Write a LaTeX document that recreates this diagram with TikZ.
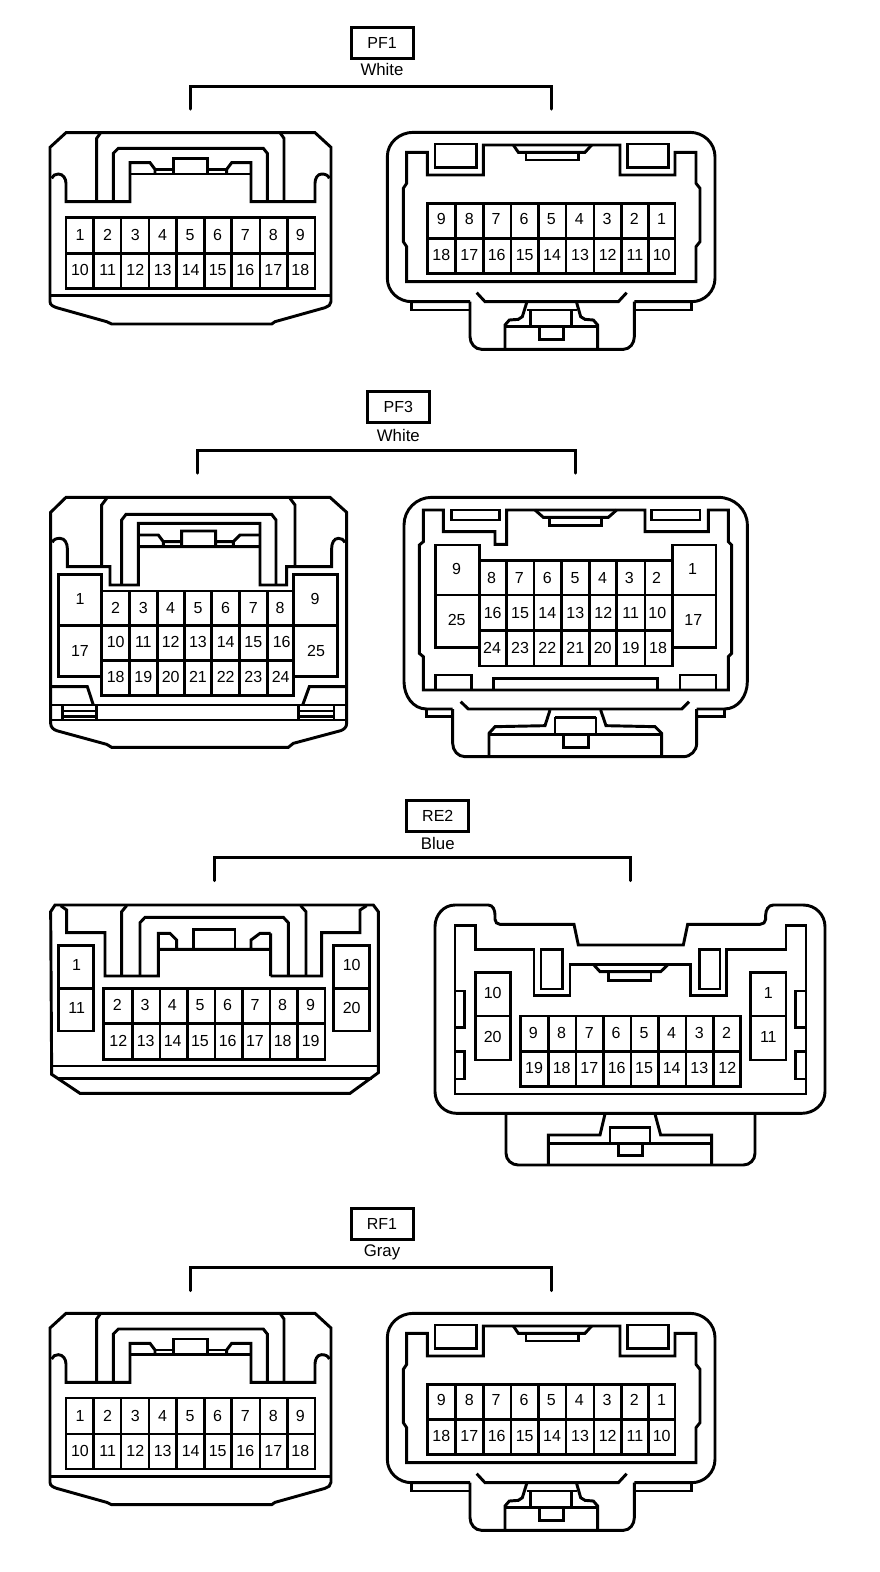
\documentclass[tikz,border=0pt]{standalone}
\usepackage{fontspec}
\setmainfont{Liberation Sans}
\tikzset{
  page/.style={x=0.75pt,y=-0.75pt},
  zm/.style={x=0.25pt,y=-0.25pt},
  ln/.style={line width=2.2pt,line join=miter,black},
  brk/.style={line width=2.25pt,black,line cap=round},
  pin/.style={font=\fontsize{12}{12}\selectfont,inner sep=0pt,text=black},
  tagbox/.style={draw=black,line width=2.25pt,minimum width=46.5pt,minimum height=23.25pt,inner sep=0pt,font=\fontsize{12}{12}\selectfont},
  tagsub/.style={inner sep=0pt,anchor=base,font=\fontsize{12.6}{12}\selectfont},
}
\newcommand{\pins}[3]{\foreach \pinx/\pint in {#3} {\node[pin] (#1-\pint) at (\pinx,#2) {\pint};}}
\newcommand{\header}[9]{% name,prefix,box x,box y,sub text,sub base y,br x1,br x2,br y
  \node[tagbox] (#2box) at (#3,#4) {#1};
  \node[tagsub] (#2sub) at (#3,#6) {#5};
  \coordinate (#2a) at (#7,#9);
  \coordinate (#2b) at (#8,#9);
  \draw[brk] (#2a) ++(0,23) -- (#2a) -- (#2b) -- ++(0,23);
}
\newcommand{\connA}[2]{%
\begin{scope}[shift={(30,#2)},zm]
\draw[ln] (108,368)--(855,368)--(903,412)--(903,875)to[out=-90,in=20](885,893)--(735,935)--(725,942)--(245,942)--(230,935)--(80,893)to[out=160,in=-90](60,875)--(60,412)--cycle;
\draw[ln] (60,857)--(903,857);
\draw[ln] (65,505)to[out=70,in=180](85,492)to[out=0,in=90](108,520)--(108,575)--(300,575)--(300,458)--(360,458)--(375,478)--(375,492);
\draw[ln] (898,505)to[out=110,in=0](875,492)to[out=180,in=90](855,520)--(855,575)--(663,575)--(663,458)--(605,458)--(590,478)--(590,492);
\draw[ln] (300,492)--(663,492);
\draw[ln] (375,478)--(430,478) (533,478)--(590,478);
\draw[ln] (430,492)--(430,445)--(533,445)--(533,492);
\draw[ln] (200,575)--(200,385)--(212,368) (762,575)--(762,385)--(750,368);
\draw[ln] (250,575)--(250,430)--(265,415)--(700,415)--(712,430)--(712,575);
\draw[ln] (108,622) rectangle (855,835) (108,730)--(855,730);
\foreach \v in {190,273,357,440,523,605,690,772} \draw[ln] (\v,622)--(\v,835);
\pins{#1}{675}{150/1,233/2,316/3,398/4,480/5,563/6,646/7,730/8,811/9}
\pins{#1}{780}{150/10,233/11,316/12,398/13,482/14,563/15,646/16,730/17,811/18}
\end{scope}}
\newcommand{\connB}[2]{%
\begin{scope}[shift={(370,#2)},zm]
\draw[ln] (300,545)--(125,545)to[out=180,in=-90](52,475)--(52,110)to[out=90,in=180](130,37)--(960,37)to[out=0,in=90](1035,110)--(1035,475)to[out=-90,in=0](965,545)--(793,545);
\draw[ln] (125,545)--(125,570)--(300,570) (793,570)--(965,570)--(965,545);
\draw[ln] (300,545)--(300,650)to[out=-90,in=180](335,688)--(760,688)to[out=0,in=-90](793,650)--(793,545);
\draw[ln] (110,97)--(172,97)--(172,165)--(340,165)--(340,75)--(750,75)--(750,165)--(915,165)--(915,97)--(978,97)--(978,190)--(990,205)--(990,365)--(978,380)--(978,485)--(110,485)--(110,380)--(100,365)--(100,205)--(110,190)--cycle;
\draw[ln] (195,72) rectangle (320,142) (773,72) rectangle (895,142);
\draw[ln] (430,75)--(445,97)--(645,97)--(665,75);
\draw[ln] (468,97)--(468,120)--(625,120)--(625,97);
\draw[ln] (172,250) rectangle (915,460) (172,355)--(915,355);
\foreach \v in {257,340,423,505,588,672,755,835} \draw[ln] (\v,250)--(\v,460);
\pins{#1}{298}{214/9,298/8,378/7,462/6,544/5,628/4,711/3,793/2,875/1}
\pins{#1}{405}{214/18,298/17,380/16,464/15,546/14,630/13,713/12,795/11,875/10}
\draw[ln] (320,518)--(345,545)--(745,545)--(770,518);
\draw[ln] (470,548)--(457,590)--(445,598)--(418,600)--(405,615)--(405,688);
\draw[ln] (620,548)--(632,590)--(645,598)--(670,600)--(683,615)--(683,688);
\draw[ln] (405,620)--(683,620) (470,570)--(620,570);
\draw[ln] (482,570)--(482,620) (605,570)--(605,620);
\draw[ln] (508,620)--(508,658)--(580,658)--(580,620);
\end{scope}}
\begin{document}
\begin{tikzpicture}[page]
\useasboundingbox (0,0) rectangle (880,1572);
\fill[white] (0,0) rectangle (880,1572);
% headers
\header{PF1}{a}{382}{42.5}{White}{75}{190}{551}{86}
\header{PF3}{b}{398.3}{407.2}{White}{441}{197.5}{575.3}{450}
\header{RE2}{c}{437.8}{815.5}{Blue}{849}{214}{630}{857.7}
\header{RF1}{d}{382}{1223.5}{Gray}{1256}{190}{551}{1267.5}
% PF1
\connA{pa}{10}
\connB{pb}{120}
% PF3 left
\begin{scope}[shift={(30,485)},zm]
\draw[ln] (108,37)--(900,37)--(950,82)--(950,715)to[out=-90,in=20](932,737)--(790,775)--(775,787)--(245,787)--(230,778)--(80,737)to[out=160,in=-90](62,715)--(62,82)--cycle;
\draw[ln] (67,172)to[out=70,in=180](90,160)to[out=0,in=90](112,190)--(112,245)--(240,245)--(240,300)--(325,300)--(325,115)--(690,115)--(690,300)--(770,300)--(770,245)--(905,245)--(905,190)to[out=90,in=180](925,160)to[out=0,in=110](945,172);
\draw[ln] (215,245)--(215,60)--(230,40) (795,245)--(795,60)--(780,40);
\draw[ln] (275,300)--(275,105)--(288,88)--(725,88)--(738,105)--(738,300);
\draw[ln] (325,150)--(385,150)--(400,170)--(400,185) (325,185)--(690,185) (400,170)--(455,170) (455,185)--(455,138)--(557,138)--(557,185) (557,170)--(610,170) (610,185)--(610,170)--(630,150)--(690,150);
\draw[ln] (215,575)--(85,575)--(85,268)--(215,268)--(215,632)--(790,632)--(790,268)--(922,268)--(922,575)--(790,575);
\draw[ln] (215,318)--(790,318) (85,422)--(922,422) (215,527)--(790,527);
\foreach \v in {298,382,463,545,628,712} \draw[ln] (\v,318)--(\v,632);
\pins{pc}{370}{257/2,340/3,422/4,504/5,587/6,670/7,750/8}
\pins{pc}{472}{257/10,340/11,422/12,504/13,587/14,670/15,755/16}
\pins{pc}{577}{257/18,340/19,422/20,504/21,587/22,670/23,752/24}
\node[pin] (pc-1) at (150,343) {1};
\node[pin] (pc-17) at (150,497) {17};
\node[pin] (pc-9) at (855,343) {9};
\node[pin] (pc-25) at (858,497) {25};
\draw[ln] (62,605)--(172,605)--(190,660) (948,605)--(838,605)--(818,660);
\draw[ln] (62,660)--(950,660) (62,705)--(950,705);
\draw[ln] (97,660)--(97,705) (97,678)--(200,678) (97,695)--(200,695) (200,660)--(200,705);
\draw[ln] (912,660)--(912,705) (805,678)--(912,678) (805,695)--(912,695) (805,660)--(805,705);
\end{scope}
% PF3 right
\begin{scope}[shift={(390,485)},zm]
\draw[ln] (188,672)--(110,672)to[out=180,in=-90](42,590)--(42,120)to[out=90,in=180](125,37)--(985,37)to[out=0,in=90](1072,120)--(1072,590)to[out=-90,in=0](1003,672)--(920,672);
\draw[ln] (110,672)--(110,695)--(188,695) (920,695)--(1003,695)--(1003,672);
\draw[ln] (188,672)--(188,775)to[out=-90,in=180](225,815)--(880,815)to[out=0,in=-90](920,775)--(920,672);
\draw[ln] (100,75)--(160,75)--(160,140)--(315,140)--(315,178)--(350,178)--(350,75)--(765,75)--(765,140)--(955,140)--(955,75)--(1015,75)--(1015,170)--(1025,180)--(1025,505)--(1015,515)--(1015,615)--(100,615)--(100,515)--(88,505)--(88,180)--(100,170)--cycle;
\draw[ln] (185,75) rectangle (328,105) (785,75) rectangle (930,105);
\draw[ln] (435,75)--(460,97)--(655,97)--(680,75);
\draw[ln] (478,97)--(478,122)--(635,122)--(635,97);
\draw[ln] (268,487)--(137,487)--(137,180)--(268,180)--(268,543)--(847,543)--(847,180)--(978,180)--(978,487)--(847,487);
\draw[ln] (268,227)--(847,227) (137,330)--(978,330) (268,437)--(847,437);
\foreach \v in {350,432,515,598,680,765} \draw[ln] (\v,227)--(\v,543);
\pins{pd}{278}{305/8,388/7,472/6,555/5,638/4,718/3,800/2}
\pins{pd}{383}{308/16,390/15,472/14,556/13,640/12,722/11,802/10}
\pins{pd}{490}{306/24,390/23,472/22,556/21,638/20,722/19,804/18}
\node[pin] (pd-9) at (200,253) {9};
\node[pin] (pd-25) at (200,405) {25};
\node[pin] (pd-1) at (908,253) {1};
\node[pin] (pd-17) at (910,405) {17};
\draw[ln] (137,612)--(137,570)--(245,570)--(245,612) (870,612)--(870,570)--(978,570)--(978,612) (310,612)--(310,580)--(803,580)--(803,612);
\draw[ln] (212,650)--(235,672)--(875,672)--(897,650);
\draw[ln] (480,675)--(465,722)--(315,725)--(297,745)--(297,815);
\draw[ln] (632,675)--(648,722)--(795,725)--(815,745)--(815,815);
\draw[ln] (297,748)--(815,748) (495,697)--(618,697) (495,697)--(495,748) (618,697)--(618,748);
\draw[ln] (520,748)--(520,788)--(595,788)--(595,748);
\end{scope}
% RE2 left
\begin{scope}[shift={(30,890)},zm]
\draw[ln] (75,45)--(1030,45)--(1045,65)--(1045,548)--(960,610)--(150,610)--(65,553)--(62,65)--cycle;
\draw[ln] (62,528)--(1045,528) (85,565)--(1025,565);
\draw[ln] (92,47)--(110,60)--(110,128)--(225,128)--(225,258)--(385,258)--(385,130)--(420,130)--(440,150)--(440,178) (385,178)--(722,178) (722,130)--(690,130)--(663,150)--(663,178) (722,258)--(722,130) (722,258)--(875,258)--(875,128)--(990,128)--(990,60)--(1010,47);
\draw[ln] (275,258)--(275,65)--(290,47) (828,258)--(828,65)--(812,47);
\draw[ln] (330,258)--(330,98)--(345,82)--(760,82)--(775,98)--(775,258);
\draw[ln] (490,178)--(490,118)--(615,118)--(615,178);
\draw[ln] (85,167) rectangle (190,423) (85,295)--(190,295);
\draw[ln] (910,167) rectangle (1018,423) (910,295)--(1018,295);
\draw[ln] (220,295) rectangle (885,508) (220,400)--(885,400);
\foreach \v in {307,390,472,555,637,720,802} \draw[ln] (\v,295)--(\v,508);
\pins{pe}{345}{262/2,345/3,427/4,510/5,593/6,675/7,758/8,842/9}
\pins{pe}{453}{265/12,347/13,428/14,510/15,593/16,675/17,758/18,842/19}
\node[pin] (pe-1) at (140,225) {1};
\node[pin] (pe-11) at (140,355) {11};
\node[pin] (pe-10) at (965,225) {10};
\node[pin] (pe-20) at (965,355) {20};
\end{scope}
% RE2 right
\begin{scope}[shift={(420,890)},zm]
\draw[ln] (45,110)to[out=90,in=180](105,45)--(205,45)to[out=0,in=90](225,75)--(225,88)to[out=-90,in=180](240,103)--(462,103)--(475,165)--(790,165)--(803,103)--(1020,103)to[out=0,in=-90](1037,88)--(1037,75)to[out=90,in=180](1060,45)--(1150,45)to[out=0,in=90](1215,110)--(1215,605)to[out=-90,in=0](1145,670)--(110,670)to[out=180,in=-90](45,605)--cycle;
\draw[ln] (105,107)--(167,107)--(167,178)--(342,178)--(342,317)--(450,317)--(450,223)--(812,223)--(812,317)--(920,317)--(920,178)--(1098,178)--(1098,107)--(1158,107)--(1158,612)--(105,612)--cycle;
\draw[ln] (363,178) rectangle (427,297) (838,178) rectangle (900,297);
\draw[ln] (520,223)--(540,245)--(722,245)--(745,223);
\draw[ln] (565,245)--(565,272)--(693,272)--(693,245);
\draw[ln] (105,303)--(133,303)--(133,412)--(105,412) (105,485)--(133,485)--(133,567)--(105,567);
\draw[ln] (1158,303)--(1127,303)--(1127,412)--(1158,412) (1158,485)--(1127,485)--(1127,567)--(1158,567);
\draw[ln] (167,247) rectangle (272,510) (167,378)--(272,378);
\draw[ln] (992,247) rectangle (1098,510) (992,378)--(1098,378);
\draw[ln] (302,378) rectangle (962,590) (302,485)--(962,485);
\foreach \v in {385,468,550,633,715,798,880} \draw[ln] (\v,378)--(\v,590);
\pins{pf}{428}{340/9,425/8,508/7,588/6,672/5,755/4,838/3,920/2}
\pins{pf}{535}{342/19,425/18,508/17,590/16,672/15,755/14,838/13,922/12}
\node[pin] (pf-10) at (218,310) {10};
\node[pin] (pf-20) at (218,440) {20};
\node[pin] (pf-1) at (1045,310) {1};
\node[pin] (pf-11) at (1045,440) {11};
\draw[ln] (258,672)--(258,790)to[out=-90,in=180](295,825)--(970,825)to[out=0,in=-90](1005,790)--(1005,672);
\draw[ln] (555,672)--(540,735)--(385,735)--(385,825) (705,672)--(722,735)--(875,735)--(875,825);
\draw[ln] (385,760)--(875,760);
\draw[ln] (570,760)--(570,712)--(690,712)--(690,760);
\draw[ln] (595,760)--(595,797)--(668,797)--(668,760);
\end{scope}
% RF1
\connA{ra}{1190.67}
\connB{rb}{1301}
\end{tikzpicture}
\end{document}
